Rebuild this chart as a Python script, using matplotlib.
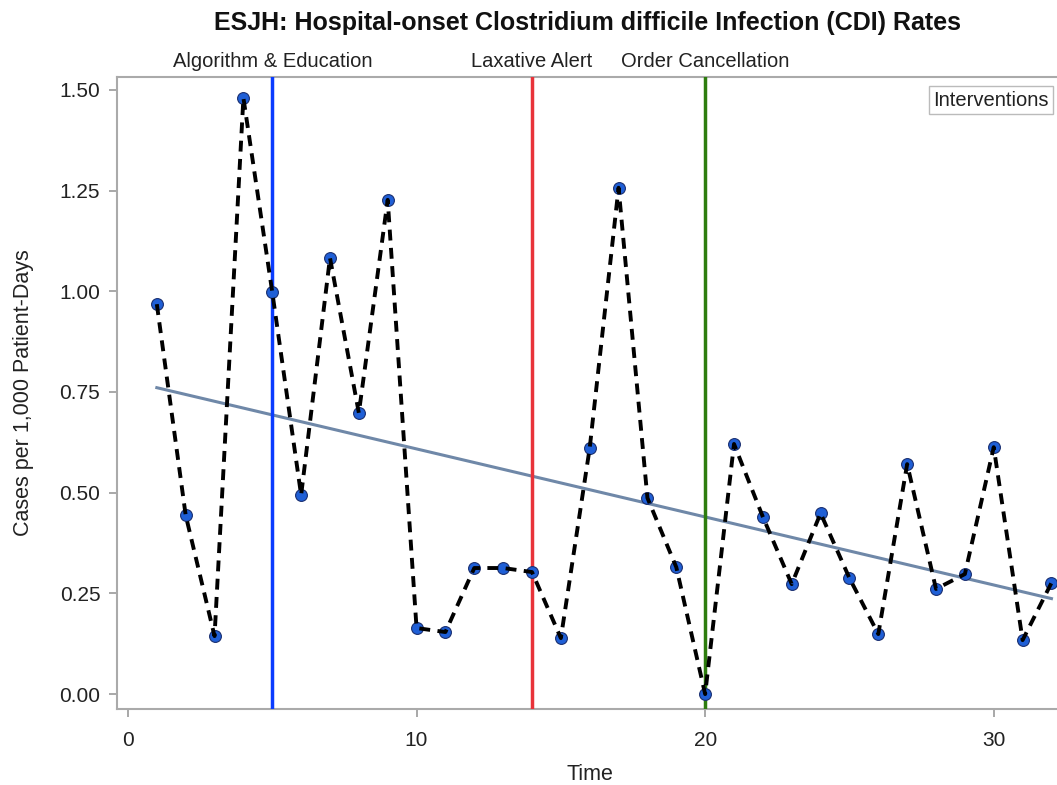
import numpy as np
import matplotlib
matplotlib.use('Agg')
import matplotlib.pyplot as plt

plt.rcParams['font.family'] = ['Liberation Sans', 'DejaVu Sans']

# Monthly CDI rates (cases per 1,000 patient-days)
time = np.arange(1, 33)
rate = [0.968, 0.444, 0.144, 1.480, 0.998, 0.494, 1.083, 0.698, 1.227, 0.164,
        0.154, 0.313, 0.313, 0.303, 0.139, 0.611, 1.257, 0.487, 0.315, 0.000,
        0.621, 0.440, 0.273, 0.449, 0.288, 0.149, 0.571, 0.261, 0.298, 0.613,
        0.134, 0.276]

# Interventions
int_times = [5, 14, 20]
int_labels = ['Algorithm & Education', 'Laxative Alert', 'Order Cancellation']
int_colors = ['#0a3cff', '#e8333a', '#2e7d0e']

fig = plt.figure(figsize=(10.57, 7.85), dpi=100)
ax = fig.add_axes([117 / 1057, 76 / 785, 946 / 1057, 632 / 785])

# linear trend
coef = np.polyfit(time, rate, 1)
trend = np.poly1d(coef)
ax.plot(time, trend(time), color='#6f88a8', lw=2.2, zorder=2)

for t, c in zip(int_times, int_colors):
    ax.axvline(t, color=c, lw=2.5, zorder=3)

ax.plot(time, rate, linestyle='None', marker='o', markersize=8.5,
        markerfacecolor='#1f5fd6', markeredgecolor='#1a2f70', markeredgewidth=0.8, zorder=4)
ax.plot(time, rate, color='black', lw=2.8, linestyle=(0, (2.8, 1.9)), zorder=5)

for t, lab in zip(int_times, int_labels):
    ax.text(t, 1.009, lab, transform=ax.get_xaxis_transform(), ha='center', va='bottom',
            fontsize=14.5, color='#222222')

fig.text(1049 / 1057, 1 - 100 / 785, 'Interventions', ha='right', va='center',
         fontsize=14.5, color='#222222',
         bbox=dict(boxstyle='square,pad=0.2', facecolor='white', edgecolor='#bbbbbb', lw=1))

ax.set_xlim(-0.38, 32.4)
ax.set_ylim(-0.037, 1.532)
ax.set_xticks([0, 10, 20, 30])
ax.set_yticks([0.0, 0.25, 0.5, 0.75, 1.0, 1.25, 1.5])
ax.set_yticklabels(['0.00', '0.25', '0.50', '0.75', '1.00', '1.25', '1.50'])
ax.tick_params(labelsize=15, color='#999999', length=6, width=1.2, labelcolor='#222222', pad=6)
ax.tick_params(axis='x', pad=10)
for s in ax.spines.values():
    s.set_color('#aaaaaa')
    s.set_linewidth(1.5)

ax.set_xlabel('Time', fontsize=15.5, color='#222222', labelpad=10)
ax.set_ylabel('Cases per 1,000 Patient-Days', fontsize=15.5, color='#222222', labelpad=18)
fig.text(588 / 1057, 1 - 23 / 785, 'ESJH: Hospital-onset Clostridium difficile Infection (CDI) Rates',
         ha='center', va='center', fontsize=18, fontweight='bold', color='#111111')

fig.savefig('out.png', dpi=100)
